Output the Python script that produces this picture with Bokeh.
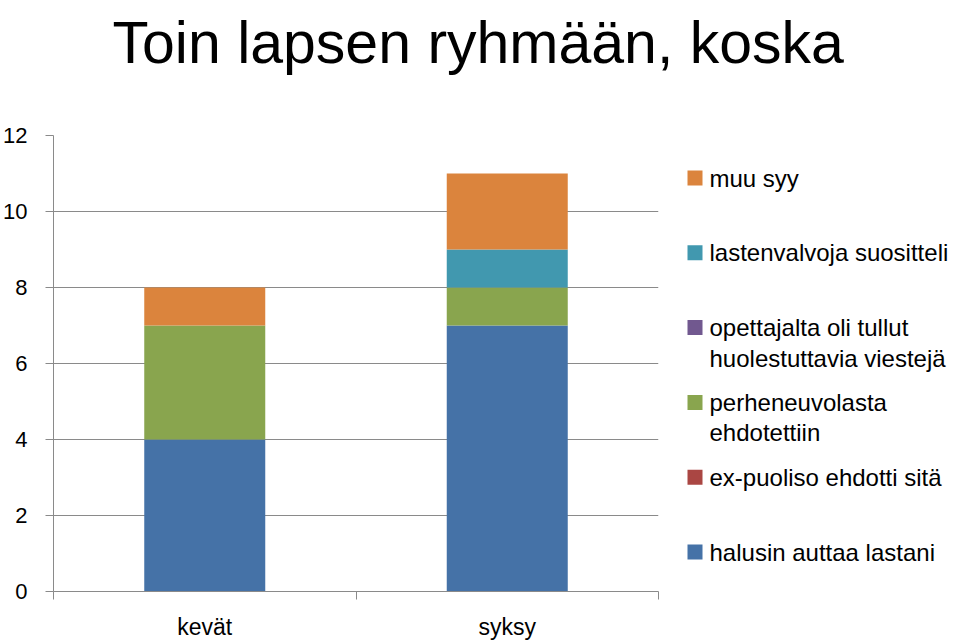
from bokeh.plotting import figure
from bokeh.layouts import row, column
from bokeh.models import ColumnDataSource, FixedTicker, Range1d
from bokeh.core.properties import value
from bokeh.embed import file_html
from bokeh.resources import INLINE

# ---- data ----
title_text = "Toin lapsen ryhmään, koska"
categories = ["kevät", "syksy"]
series_names = [
    "halusin auttaa lastani",
    "ex-puoliso ehdotti sitä",
    "perheneuvolasta ehdotettiin",
    "opettajalta oli tullut huolestuttavia viestejä",
    "lastenvalvoja suositteli",
    "muu syy",
]
halusin = [4, 7]
ex_puoliso = [0, 0]
perheneuvola = [3, 1]
opettaja = [0, 0]
lastenvalvoja = [0, 1]
muu_syy = [1, 2]
y_ticks = [0, 2, 4, 6, 8, 10, 12]

# wrapped legend labels (as in the original legend)
legend_wrapped = {
    "halusin auttaa lastani": ["halusin auttaa lastani"],
    "ex-puoliso ehdotti sitä": ["ex-puoliso ehdotti sitä"],
    "perheneuvolasta ehdotettiin": ["perheneuvolasta", "ehdotettiin"],
    "opettajalta oli tullut huolestuttavia viestejä": ["opettajalta oli tullut", "huolestuttavia viestejä"],
    "lastenvalvoja suositteli": ["lastenvalvoja suositteli"],
    "muu syy": ["muu syy"],
}

# ---- styles / layout ----
colors = ["#4572A7", "#AA4643", "#89A54E", "#71588F", "#4198AF", "#DB843D"]
FONT = "Liberation Sans"
GRID = "#8a8a8a"
W, H = 960, 642
TITLE_H = 100
MAIN_W = 662
LEFT, RIGHT, TOP, BOTTOM = 52, 4, 35, 51
FRAME_TOP, FRAME_BOTTOM = TITLE_H + TOP, H - BOTTOM

# ---- title ----
tf = figure(width=W, height=TITLE_H, output_backend="svg", toolbar_location=None,
            x_range=Range1d(0, W), y_range=Range1d(TITLE_H, 0),
            x_axis_location=None, y_axis_location=None, min_border=0,
            background_fill_color="white", border_fill_color="white")
tf.outline_line_color = None
tf.grid.visible = False
tf.text(x=[112], y=[42], text=[title_text], text_font=value(FONT), text_font_size="59px",
        text_color="black", text_baseline="middle", text_align="left")

# ---- main chart ----
series_values = [halusin, ex_puoliso, perheneuvola, opettaja, lastenvalvoja, muu_syy]
keys = [f"s{i}" for i in range(len(series_values))]
data = {"x": [i + 0.5 for i in range(len(categories))]}
for k, v in zip(keys, series_values):
    data[k] = v
source = ColumnDataSource(data)

p = figure(width=MAIN_W, height=H - TITLE_H, output_backend="svg", toolbar_location=None,
           x_range=Range1d(0, len(categories)), y_range=Range1d(0, 12),
           min_border_left=LEFT, min_border_right=RIGHT,
           min_border_top=TOP, min_border_bottom=BOTTOM,
           background_fill_color="white", border_fill_color="white")
p.outline_line_color = None

p.vbar_stack(keys, x="x", width=0.4, source=source, color=colors, line_color=None)

p.yaxis.ticker = FixedTicker(ticks=y_ticks)
p.yaxis.axis_line_color = GRID
p.yaxis.major_tick_line_color = GRID
p.yaxis.major_tick_out = 8
p.yaxis.major_tick_in = 0
p.yaxis.minor_tick_line_color = None
p.yaxis.major_label_standoff = 18
p.yaxis.major_label_text_font = FONT
p.yaxis.major_label_text_font_size = "22px"
p.yaxis.major_label_text_color = "black"

p.xaxis.ticker = FixedTicker(ticks=[i + 0.5 for i in range(len(categories))],
                             minor_ticks=list(range(len(categories) + 1)))
p.xaxis.major_label_overrides = {i + 0.5: c for i, c in enumerate(categories)}
p.xaxis.axis_line_color = GRID
p.xaxis.major_tick_line_color = None
p.xaxis.major_tick_out = 0
p.xaxis.major_tick_in = 0
p.xaxis.minor_tick_line_color = GRID
p.xaxis.minor_tick_out = 8
p.xaxis.minor_tick_in = 0
p.xaxis.major_label_standoff = 14
p.xaxis.major_label_text_font = FONT
p.xaxis.major_label_text_font_size = "23px"
p.xaxis.major_label_text_color = "black"

p.xgrid.grid_line_color = None
p.ygrid.ticker = FixedTicker(ticks=y_ticks)
p.ygrid.grid_line_color = GRID
p.ygrid.grid_line_width = 1

# ---- legend (frame aligned with the chart frame; canvas pixel coordinates) ----
lf = figure(width=W - MAIN_W, height=H - TITLE_H, output_backend="svg", toolbar_location=None,
            x_range=Range1d(MAIN_W, W), y_range=Range1d(FRAME_BOTTOM, FRAME_TOP),
            x_axis_location=None, y_axis_location=None,
            min_border_left=0, min_border_right=0,
            min_border_top=TOP, min_border_bottom=BOTTOM,
            background_fill_color="white", border_fill_color="white")
lf.outline_line_color = None
lf.grid.visible = False

leg_first = 177.5
leg_step = 74.8
line_step = 30.5
sq = 15
sq_x = 687
txt_x = 709
order = list(reversed(range(len(series_names))))
sq_left, sq_right, sq_top, sq_bottom, sq_col = [], [], [], [], []
tx, ty, tt = [], [], []
for i, idx in enumerate(order):
    c = leg_first + leg_step * i
    sq_left.append(sq_x)
    sq_right.append(sq_x + sq)
    sq_top.append(c - sq / 2)
    sq_bottom.append(c + sq / 2)
    sq_col.append(colors[idx])
    for j, line in enumerate(legend_wrapped[series_names[idx]]):
        tx.append(txt_x)
        ty.append(c + j * line_step)
        tt.append(line)
lf.quad(left=sq_left, right=sq_right, top=sq_top, bottom=sq_bottom,
        fill_color=sq_col, line_color=None)
lf.text(x=tx, y=ty, text=tt, text_font=value(FONT), text_font_size="24px",
        text_color="black", text_baseline="middle", text_align="left")

layout = column(tf, row(p, lf, spacing=0), spacing=0)
open("out.html", "w").write(file_html(layout, INLINE))
